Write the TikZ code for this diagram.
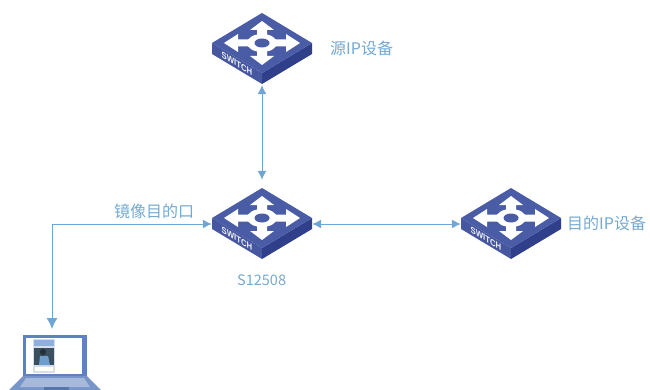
\documentclass[tikz,border=0pt]{standalone}
\usepackage{fontspec}
\setmainfont{Liberation Sans}
\newfontfamily\cjk{Noto Sans CJK SC}
\usetikzlibrary{arrows.meta}
\definecolor{linkc}{HTML}{6FA6D6}
\definecolor{txtc}{HTML}{74A9D2}
\definecolor{topf}{HTML}{4A5CA6}
\definecolor{leftf}{HTML}{46569F}
\definecolor{rightf}{HTML}{303F8A}
\definecolor{lapc}{HTML}{5F82BE}
\definecolor{photoh}{HTML}{8FB0D8}
\definecolor{photod}{HTML}{3A4F5F}
\definecolor{photop}{HTML}{6E9CCB}
\definecolor{photos}{HTML}{D5DEEA}
\tikzset{
  x=1pt,y=-1pt,
  link/.style={draw=linkc,line width=1pt,{Latex[length=9pt,width=9pt]}-{Latex[length=9pt,width=9pt]}},
  lbl/.style={text=txtc,font=\cjk\fontsize{16}{18}\selectfont,inner sep=0pt},
  anchorbox/.style={inner sep=0pt,minimum width=100pt,minimum height=72pt},
  switchicon/.pic={
    \fill[leftf] (-50,0) -- (0,30) -- (0,41) -- (-50,11) -- cycle;
    \fill[rightf] (50,0) -- (0,30) -- (0,41) -- (50,11) -- cycle;
    \fill[topf] (-50,0) -- (0,-30) -- (50,0) -- (0,30) -- cycle;
    \fill[white] (0,-22) -- (12,-13) -- (5,-13) -- (5,13) -- (12,13) -- (0,22) -- (-12,13) -- (-5,13) -- (-5,-13) -- (-12,-13) -- cycle;
    \fill[white] (-38,0) -- (-24,-9) -- (-24,-3.5) -- (24,-3.5) -- (24,-9) -- (38,0) -- (24,9) -- (24,3.5) -- (-24,3.5) -- (-24,9) -- cycle;
    \fill[white] (0,0) ellipse[x radius=15,y radius=9];
    \fill[topf] (0,0) ellipse[x radius=7.5,y radius=4.5];
    \begin{scope}[shift={(-25,20.5)}]
      \node[text=white!90!topf,font=\bfseries\fontsize{9}{10}\selectfont,inner sep=0pt,
        transform shape,cm={0.86,-0.51,0,1,(0,0)}] (swtext) at (0,0) {SWITCH};
    \end{scope}
  },
}
\begin{document}
\begin{tikzpicture}
\useasboundingbox (0,0) rectangle (650,390);
% switches
\node[anchorbox] (src) at (262,43) {};
\node[anchorbox] (mid) at (262,218) {};
\node[anchorbox] (dst) at (511,218) {};
\pic at (src.center) {switchicon};
\pic at (mid.center) {switchicon};
\pic at (dst.center) {switchicon};
% laptop
\coordinate (lap) at (52,329);
\fill[lapc] (23,335) rectangle (87,376);
\fill[white] (26,338) rectangle (82,374);
\fill[photos] (33,339) rectangle (55,373);
\fill[photoh] (34,340) rectangle (54,346);
\fill[photod] (34,348) rectangle (54,365);
\fill[photop] (39,365) -- (40,356) -- (48,356) -- (50,365) -- cycle;
\fill[photod!60!black] (43,352) circle[radius=3];
\fill[white] (35,367) rectangle (53,371);
\fill[lapc!85!white] (23,376) -- (87,376) -- (101,390) -- (9,390) -- cycle;
\fill[lapc!55!white] (26,378) -- (84,378) -- (90,387) -- (20,387) -- cycle;
\fill[lapc!90!black] (44,387) rectangle (69,390);
% connectors
\draw[link] ([yshift=-6pt]src.south) -- ([yshift=2pt]mid.north);
\draw[link] ([yshift=-6pt]mid.east) -- ([yshift=-6pt]dst.west);
\draw[draw=linkc,line width=1pt,{Latex[length=9pt,width=9pt]}-{Latex[length=11pt,width=11pt]}] ([yshift=-6pt]mid.west) -| (lap);
% labels
\node[lbl,anchor=west] (t1) at (330,48) {源IP设备};
\node[lbl,anchor=west] (t2) at (114,211) {镜像目的口};
\node[lbl,anchor=west] (t3) at (567,223) {目的IP设备};
\node[lbl,anchor=west,font=\cjk\fontsize{14.5}{16}\selectfont] (t4) at (237,280) {S12508};
\end{tikzpicture}
\end{document}
